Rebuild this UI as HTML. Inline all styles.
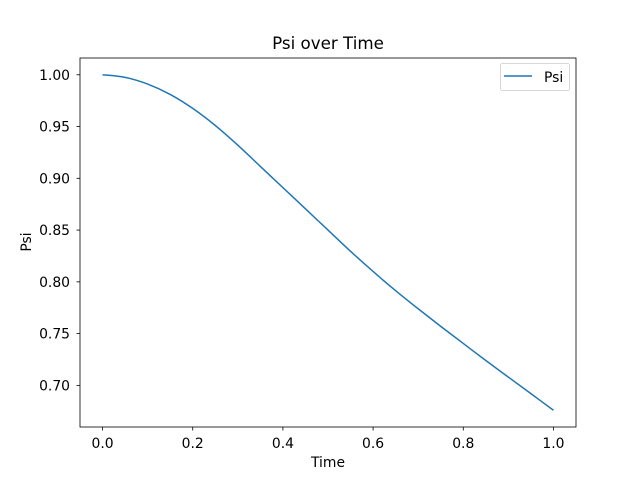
<!DOCTYPE html>
<html><head><meta charset="utf-8"><style>
body{margin:0;background:#fff;}
svg text{font-family:"DejaVu Sans","Liberation Sans",sans-serif;fill:#000;}
</style></head><body>
<svg width="640" height="480" viewBox="0 0 640 480">
<rect width="640" height="480" fill="#fff"/>
<text x="328" y="49" font-size="16.7" text-anchor="middle">Psi over Time</text>
<g id="axes"></g>
<path id="line" fill="none" stroke="#1f77b4" stroke-width="1.5" stroke-linejoin="round"/>
<rect x="80" y="58" width="496" height="369" fill="none" stroke="#000" stroke-width="0.8"/>
<text x="328" y="467" font-size="13.9" text-anchor="middle">Time</text>
<text x="31" y="242" font-size="13.9" text-anchor="middle" transform="rotate(-90 31 242)">Psi</text>
<g>
<rect x="500.5" y="63.5" width="69" height="27" rx="2" fill="#fff" stroke="#ccc" stroke-width="0.8"/>
<line x1="504" y1="76" x2="532" y2="76" stroke="#1f77b4" stroke-width="1.5"/>
<text x="544" y="82" font-size="13.9">Psi</text>
</g>
</svg>
<script>
const times=[0,0.05,0.1,0.15,0.2,0.25,0.3,0.35,0.4,0.45,0.5,0.55,0.6,0.65,0.7,0.75,0.8,0.85,0.9,0.95,1.0];
const psi=[1.0000,0.9975,0.9910,0.9810,0.9675,0.9510,0.9320,0.9115,0.8910,0.8705,0.8500,0.8295,0.8100,0.7915,0.7740,0.7570,0.7405,0.7240,0.7080,0.6920,0.6760];
const xTicks=[0,0.2,0.4,0.6,0.8,1.0];
const xTickLabels=["0.0","0.2","0.4","0.6","0.8","1.0"];
const yTicks=[0.70,0.75,0.80,0.85,0.90,0.95,1.00];
const yTickLabels=["0.70","0.75","0.80","0.85","0.90","0.95","1.00"];
const X0=80,X1=576,Y0=58,Y1=427;
const xmin=-0.05,xmax=1.05;
const dmin=Math.min(...psi),dmax=Math.max(...psi),pad=(dmax-dmin)*0.05;
const ymin=dmin-pad,ymax=dmax+pad;
const sx=v=>X0+(v-xmin)/(xmax-xmin)*(X1-X0);
const sy=v=>Y1-(v-ymin)/(ymax-ymin)*(Y1-Y0);
const NS="http://www.w3.org/2000/svg";
const ax=document.getElementById('axes');
function mk(tag,attrs){const e=document.createElementNS(NS,tag);for(const k in attrs)e.setAttribute(k,attrs[k]);ax.appendChild(e);return e;}
xTicks.forEach((t,i)=>{
const l=mk('line',{x1:sx(t),x2:sx(t),y1:Y1,y2:Y1+3.5,stroke:'#000','stroke-width':0.8});


const tx=mk('text',{x:sx(t),y:Y1+21,'font-size':13.9,'text-anchor':'middle'});
tx.textContent=xTickLabels[i];


});
yTicks.forEach((t,i)=>{
const l=mk('line',{x1:X0-3.5,x2:X0,y1:sy(t),y2:sy(t),stroke:'#000','stroke-width':0.8});


const tx=mk('text',{x:X0-10,y:sy(t)+5,'font-size':13.9,'text-anchor':'end'});
tx.textContent=yTickLabels[i];


});
const P=times.map((t,i)=>[sx(t),sy(psi[i])]);
let d=`M${P[0][0]},${P[0][1]}`;
for(let i=0;i<P.length-1;i++){
const p0=P[Math.max(0,i-1)],p1=P[i],p2=P[i+1],p3=P[Math.min(P.length-1,i+2)];
const c1=[p1[0]+(p2[0]-p0[0])/6,p1[1]+(p2[1]-p0[1])/6];
const c2=[p2[0]-(p3[0]-p1[0])/6,p2[1]-(p3[1]-p1[1])/6];
d+=` C${c1[0]},${c1[1]} ${c2[0]},${c2[1]} ${p2[0]},${p2[1]}`;
}
document.getElementById('line').setAttribute('d',d);
</script>
</body></html>
